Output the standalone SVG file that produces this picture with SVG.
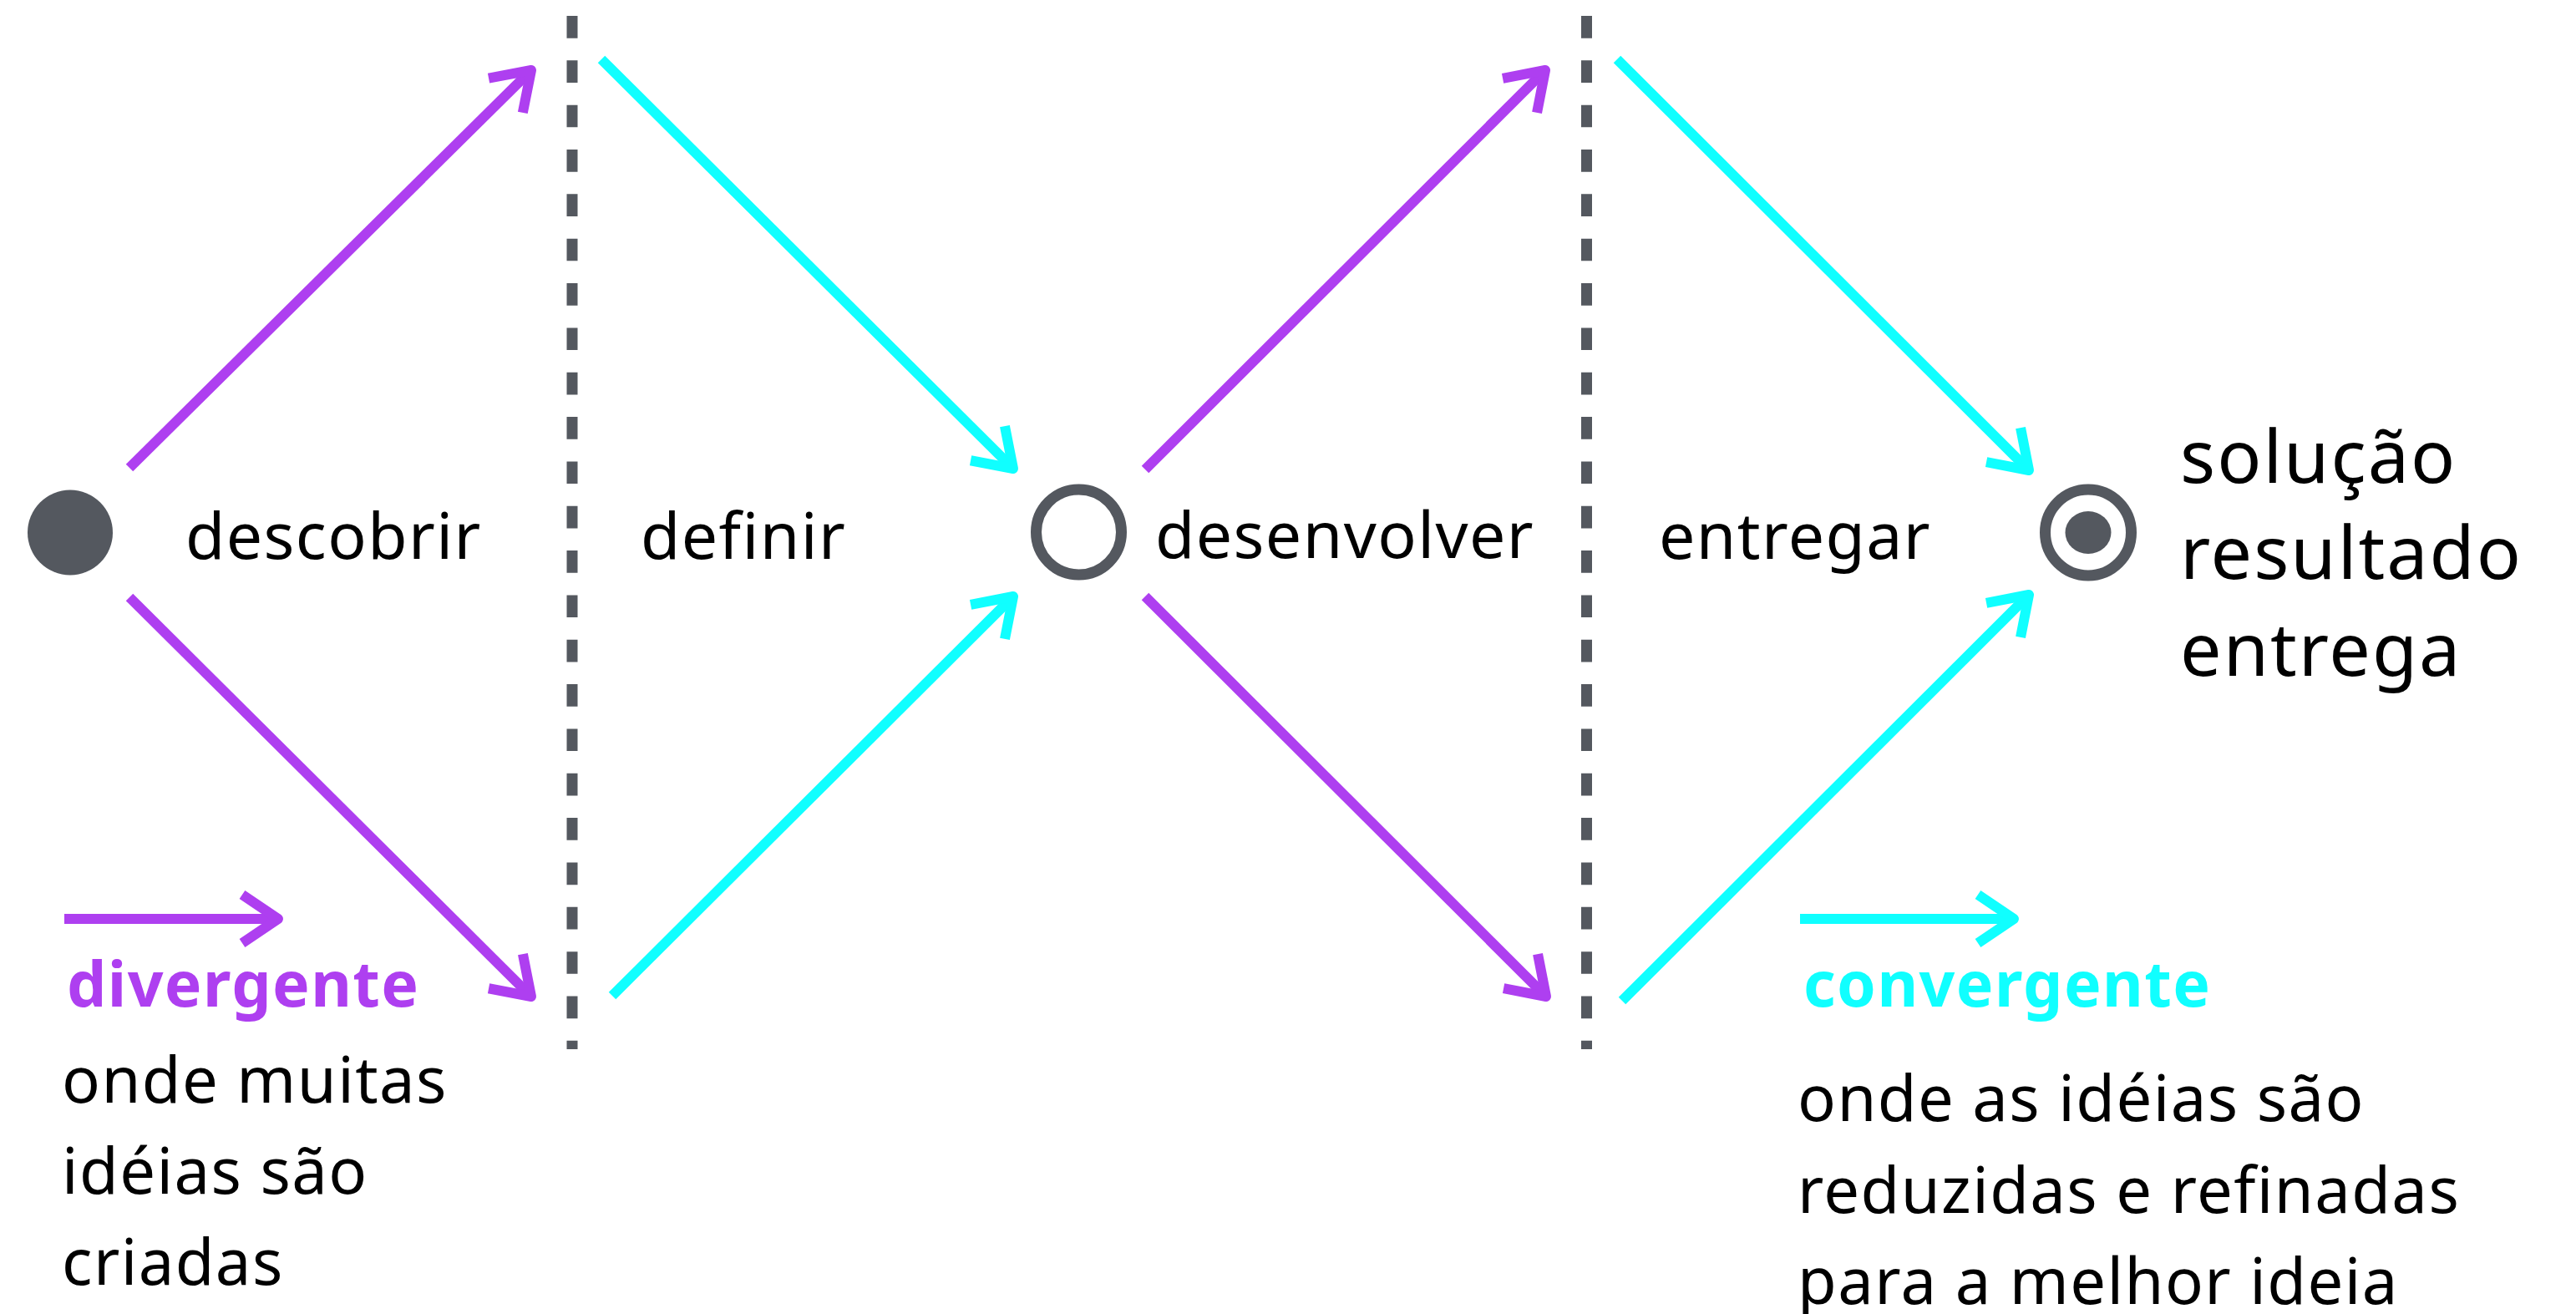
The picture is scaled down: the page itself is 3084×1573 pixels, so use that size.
<svg xmlns="http://www.w3.org/2000/svg" width="3084" height="1573" viewBox="0 0 3084 1573">
  <style>
    .lbl { font-family: "Noto Sans", "Open Sans", sans-serif; font-size: 77px; letter-spacing: 1.4px; fill: #000000; }
    .big { font-family: "Noto Sans", "Open Sans", sans-serif; font-size: 88px; letter-spacing: 2px; fill: #000000; }
    .leg { font-family: "Noto Sans", "Open Sans", sans-serif; font-size: 76px; letter-spacing: 1.4px; fill: #000000; }
    .legb { font-family: "Noto Sans", "Open Sans", sans-serif; font-size: 75px; letter-spacing: 1.4px; font-weight: bold; }
    .div { stroke: #ae3ff0; stroke-width: 12; fill: none; }
    .conv { stroke: #10ffff; stroke-width: 12; fill: none; }
    .sep { stroke: #54585f; stroke-width: 13; stroke-dasharray: 26.67 26.67; fill: none; }
    .gray { fill: #54585f; }
  </style>
  <defs>
    <marker id="ah-div" markerUnits="userSpaceOnUse" orient="auto" refX="0" refY="0" markerWidth="10" markerHeight="10" overflow="visible">
      <path d="M-43,-29 L0,0 L-43,29" fill="none" stroke="#ae3ff0" stroke-width="12" stroke-linejoin="round" stroke-linecap="butt"/>
    </marker>
    <marker id="ah-conv" markerUnits="userSpaceOnUse" orient="auto" refX="0" refY="0" markerWidth="10" markerHeight="10" overflow="visible">
      <path d="M-43,-29 L0,0 L-43,29" fill="none" stroke="#10ffff" stroke-width="12" stroke-linejoin="round" stroke-linecap="butt"/>
    </marker>
  </defs>
  <rect x="0" y="0" width="3084" height="1573" fill="#ffffff"/>

  <g id="separators">
    <line class="sep" x1="685" y1="19" x2="685" y2="1256"/>
    <line class="sep" x1="1899.5" y1="19" x2="1899.5" y2="1256"/>
  </g>

  <g id="connectors">
    <line class="div" x1="155" y1="560" x2="636" y2="84" marker-end="url(#ah-div)"/>
    <line class="div" x1="155" y1="715" x2="636" y2="1193" marker-end="url(#ah-div)"/>
    <line class="conv" x1="720" y1="71" x2="1213" y2="561" marker-end="url(#ah-conv)"/>
    <line class="conv" x1="733" y1="1192" x2="1213" y2="714" marker-end="url(#ah-conv)"/>
    <line class="div" x1="1371" y1="562" x2="1850" y2="84" marker-end="url(#ah-div)"/>
    <line class="div" x1="1371" y1="714" x2="1851" y2="1193" marker-end="url(#ah-div)"/>
    <line class="conv" x1="1936" y1="71" x2="2429" y2="563" marker-end="url(#ah-conv)"/>
    <line class="conv" x1="1942" y1="1198" x2="2429" y2="712" marker-end="url(#ah-conv)"/>
  </g>

  <g id="node-start">
    <circle class="gray" cx="84" cy="637.5" r="51"/>
  </g>
  <g id="node-middle">
    <circle cx="1291.5" cy="637" r="51" fill="none" stroke="#54585f" stroke-width="13"/>
  </g>
  <g id="node-end">
    <circle cx="2500" cy="637.5" r="51.5" fill="none" stroke="#54585f" stroke-width="13"/>
    <ellipse class="gray" cx="2500" cy="637.5" rx="27.5" ry="25.5"/>
  </g>

  <g id="phase-labels">
    <text class="lbl" x="222" y="669">descobrir</text>
    <text class="lbl" x="767" y="669">definir</text>
    <text class="lbl" x="1383" y="668">desenvolver</text>
    <text class="lbl" x="1986" y="669">entregar</text>
  </g>

  <g id="result-label">
    <text class="big" x="2610" y="578">solução</text>
    <text class="big" x="2610" y="693">resultado</text>
    <text class="big" x="2610" y="809">entrega</text>
  </g>

  <g id="legend-divergent">
    <line class="div" x1="77" y1="1100" x2="333" y2="1100" marker-end="url(#ah-div)"/>
    <text class="legb" x="80" y="1205" fill="#ae3ff0">divergente</text>
    <text class="leg" x="74" y="1320">onde muitas</text>
    <text class="leg" x="74" y="1429">idéias são</text>
    <text class="leg" x="74" y="1538">criadas</text>
  </g>

  <g id="legend-convergent">
    <line class="conv" x1="2155" y1="1100" x2="2411" y2="1100" marker-end="url(#ah-conv)"/>
    <text class="legb" x="2159" y="1205" fill="#10ffff">convergente</text>
    <text class="leg" x="2152" y="1342">onde as idéias são</text>
    <text class="leg" x="2152" y="1452">reduzidas e refinadas</text>
    <text class="leg" x="2152" y="1561">para a melhor ideia</text>
  </g>
</svg>
